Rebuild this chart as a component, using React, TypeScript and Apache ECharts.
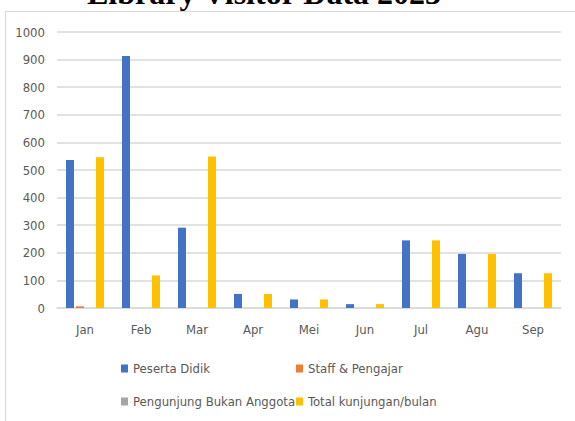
import React, { useEffect, useRef } from "react";
import * as echarts from "echarts";

const months = ["Jan", "Feb", "Mar", "Apr", "Mei", "Jun", "Jul", "Agu", "Sep"];
const pesertaDidik = [536, 913, 291, 51, 31, 14, 245, 196, 126];
const staffPengajar = [6, 0, 0, 0, 0, 0, 0, 0, 0];
const pengunjungBukanAnggota = [0, 0, 0, 0, 0, 0, 0, 0, 0];
const totalKunjungan = [546, 118, 549, 51, 31, 14, 245, 196, 126];
const seriesNames = ["Peserta Didik", "Staff & Pengajar", "Pengunjung Bukan Anggota", "Total kunjungan/bulan"];
const colors = ["#4472C4", "#ED7D31", "#A5A5A5", "#FFC000"];
const titleText = "Library Visitor Data 2023";

const FONT = "'Liberation Sans Narrow', 'DejaVu Sans Condensed', sans-serif";

export default function App() {
  const ref = useRef<HTMLDivElement>(null);
  useEffect(() => {
    if (!ref.current) return;
    const chart = echarts.init(ref.current, null, { renderer: "svg" });
    const data = [pesertaDidik, staffPengajar, pengunjungBukanAnggota, totalKunjungan];
    const legendPos = [
      { left: 121, top: 362 },
      { left: 296, top: 362 },
      { left: 121, top: 395 },
      { left: 296, top: 395 },
    ];
    chart.setOption({
      animation: false,
      backgroundColor: "#ffffff",
      color: colors,
      graphic: [
        {
          type: "rect",
          shape: { x: 5.5, y: 11.5, width: 620, height: 500 },
          style: { fill: "none", stroke: "#d9d9d9", lineWidth: 1.2 },
          z: -1,
        },
        {
          type: "text",
          x: 264,
          y: -7.5,
          style: {
            text: titleText,
            font: "bold 32px 'Liberation Serif', 'Times New Roman', serif",
            fill: "#000000",
            textAlign: "center",
            textVerticalAlign: "middle",
          },
        },
      ],
      legend: seriesNames.map((n, i) => ({
        data: [n],
        left: legendPos[i].left,
        top: legendPos[i].top,
        padding: 0,
        itemWidth: 7,
        itemHeight: 8,
        icon: "rect",
        selectedMode: false,
        textStyle: { color: "#595959", fontSize: 13, fontFamily: FONT },
      })),
      grid: { left: 57, right: 14, top: 32, bottom: 113 },
      xAxis: {
        type: "category",
        data: months,
        axisLine: { lineStyle: { color: "#d9d9d9", width: 1.5 } },
        axisTick: { show: false },
        axisLabel: { color: "#595959", fontSize: 13, fontFamily: FONT, margin: 15 },
      },
      yAxis: {
        type: "value",
        min: 0,
        max: 1000,
        interval: 100,
        axisLine: { show: false },
        axisTick: { show: false },
        axisLabel: {
          color: "#595959",
          fontSize: 13,
          fontFamily: FONT,
          margin: 12,
          formatter: (v: number) => String(v),
        },
        splitLine: { lineStyle: { color: "#d9d9d9", width: 1.5 } },
      },
      series: seriesNames.map((n, i) => ({
        name: n,
        type: "bar",
        data: data[i],
        barWidth: 8,
        barGap: "25%",
        itemStyle: { color: colors[i] },
      })),
    });
    return () => chart.dispose();
  }, []);
  return (
    <div
      ref={ref}
      style={{ position: "fixed", left: 0, top: 0, width: 575, height: 421 }}
    />
  );
}
